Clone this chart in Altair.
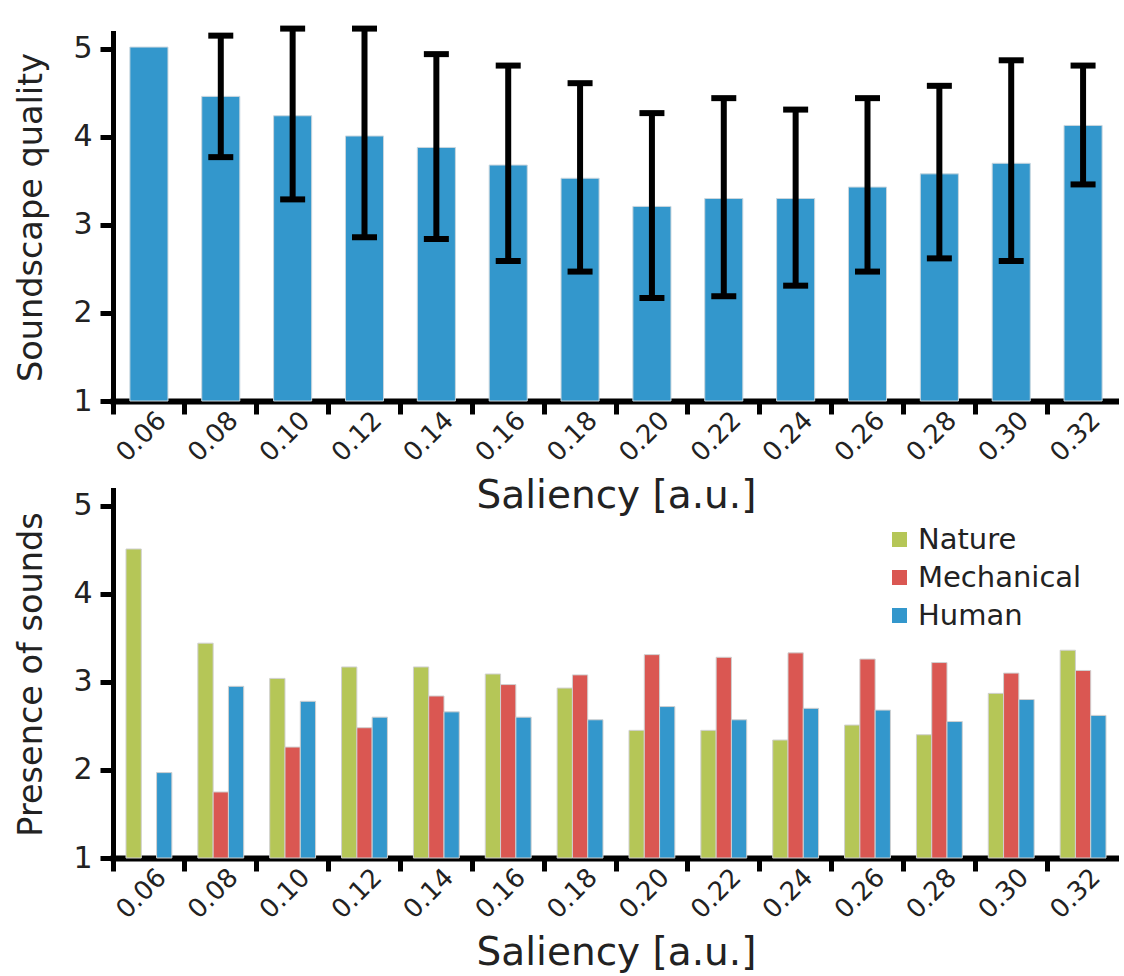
import altair as alt
import pandas as pd

saliency = ["0.06", "0.08", "0.10", "0.12", "0.14", "0.16", "0.18",
            "0.20", "0.22", "0.24", "0.26", "0.28", "0.30", "0.32"]
quality = [5.02, 4.46, 4.24, 4.01, 3.88, 3.68, 3.53, 3.21, 3.30, 3.30, 3.43, 3.58, 3.70, 4.13]
err_hi = [None, 5.15, 5.23, 5.23, 4.94, 4.81, 4.61, 4.27, 4.44, 4.31, 4.44, 4.58, 4.87, 4.81]
err_lo = [None, 3.77, 3.29, 2.86, 2.84, 2.59, 2.47, 2.17, 2.19, 2.31, 2.47, 2.62, 2.59, 3.46]

categories = ["Nature", "Mechanical", "Human"]
nature = [4.51, 3.44, 3.04, 3.17, 3.17, 3.09, 2.93, 2.45, 2.45, 2.34, 2.51, 2.40, 2.87, 3.36]
mechanical = [None, 1.75, 2.26, 2.48, 2.84, 2.97, 3.08, 3.31, 3.28, 3.33, 3.26, 3.22, 3.10, 3.13]
human = [1.97, 2.95, 2.78, 2.60, 2.66, 2.60, 2.57, 2.72, 2.57, 2.70, 2.68, 2.55, 2.80, 2.62]
cat_colors = ["#B5C657", "#DA5752", "#3397CC"]

FONT = "DejaVu Sans"
W, H = 1006, 368

top_df = pd.DataFrame({"s": saliency, "q": quality, "hi": err_hi, "lo": err_lo})
rows = []
for name, vals in zip(categories, [nature, mechanical, human]):
    for s, v in zip(saliency, vals):
        rows.append({"s": s, "cat": name, "v": v})
bot_df = pd.DataFrame(rows)

xscale = alt.Scale(domain=saliency, paddingInner=0, paddingOuter=0)
yscale = alt.Scale(domain=[1, 5.18], nice=False, zero=False)


def xaxis():
    return alt.Axis(title="Saliency [a.u.]", labelAngle=-45, bandPosition=0,
                    labelOffset=13, labelAlign="right", labelBaseline="middle",
                    tickSize=13, tickWidth=5, tickColor="black",
                    domainWidth=6, domainColor="black", domainCap="square",
                    labelFontSize=26, labelFont=FONT, labelColor="#222",
                    labelPadding=2, titleFontSize=39, titleFont=FONT,
                    titleFontWeight="normal", titleColor="#222", titlePadding=10)


def yaxis(title):
    return alt.Axis(title=title, values=[1, 2, 3, 4, 5], format="d", grid=False,
                    tickSize=13, tickWidth=5, tickColor="black",
                    domainWidth=5, domainColor="black", domainCap="square",
                    labelFontSize=30, labelFont=FONT, labelColor="#222",
                    labelPadding=8, titleFontSize=33.5, titleFont=FONT,
                    titleFontWeight="normal", titleColor="#222", titlePadding=24)


xenc = alt.X("s:N", scale=xscale, sort=saliency, axis=xaxis())

bars = alt.Chart(top_df).mark_bar(
    width=alt.RelativeBandSize(0.53), color="#3397CC", stroke="#c9d6de", strokeWidth=1
).encode(
    x=xenc,
    y=alt.Y("q:Q", scale=yscale, axis=yaxis("Soundscape quality")),
    y2=alt.datum(1),
)
err = alt.Chart(top_df).mark_rule(color="black", strokeWidth=6).encode(
    x=alt.X("s:N", scale=xscale, sort=saliency),
    y=alt.Y("lo:Q", scale=yscale),
    y2="hi:Q",
)
cap_hi = alt.Chart(top_df).mark_tick(color="black", thickness=6, size=25, opacity=1).encode(
    x=alt.X("s:N", scale=xscale, sort=saliency),
    y=alt.Y("hi:Q", scale=yscale),
)
cap_lo = alt.Chart(top_df).mark_tick(color="black", thickness=6, size=25, opacity=1).encode(
    x=alt.X("s:N", scale=xscale, sort=saliency),
    y=alt.Y("lo:Q", scale=yscale),
)
top = alt.layer(bars, err, cap_hi, cap_lo).properties(width=W, height=H)

bottom = alt.Chart(bot_df).mark_bar(stroke="#d0d0d0", strokeWidth=1).encode(
    x=xenc,
    xOffset=alt.XOffset("cat:N", sort=categories,
                        scale=alt.Scale(paddingInner=0, paddingOuter=0.85)),
    y=alt.Y("v:Q", scale=yscale, axis=yaxis("Presence of sounds")),
    y2=alt.datum(1),
    color=alt.Color("cat:N", sort=categories,
                    scale=alt.Scale(domain=categories, range=cat_colors),
                    legend=alt.Legend(title=None, orient="none", legendX=772, legendY=35,
                                      symbolType="square", symbolSize=225,
                                      symbolStrokeWidth=0, labelFontSize=29,
                                      labelFont=FONT, labelColor="#222", labelLimit=400,
                                      rowPadding=8, labelOffset=4)),
).properties(width=W, height=H)

chart = alt.vconcat(top, bottom, spacing=89, bounds="flush").resolve_legend(
    color="independent"
).properties(
    padding={"left": 14, "top": 25, "right": 0, "bottom": 0},
    background="white",
).configure_view(stroke=None)

chart.save("out.html", embed_options={"renderer": "svg", "actions": False})
